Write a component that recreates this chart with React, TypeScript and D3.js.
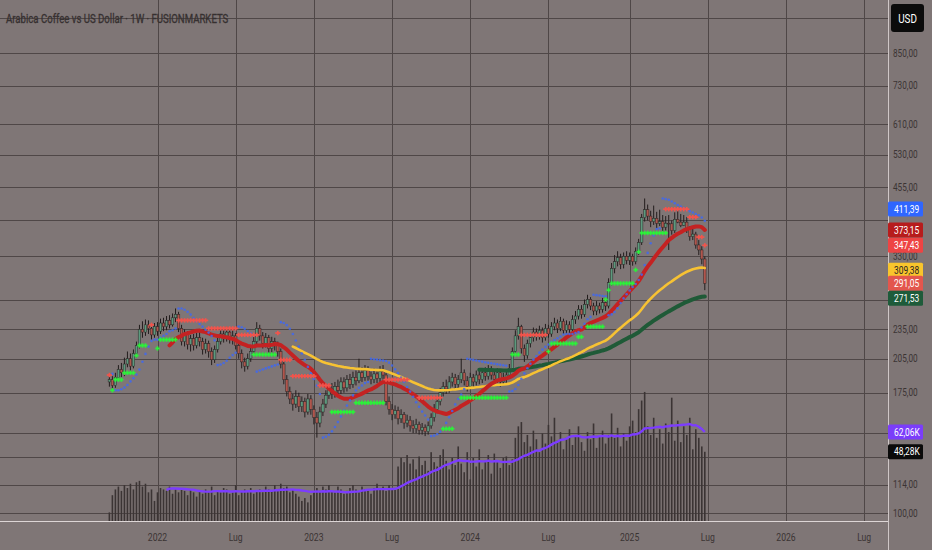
import React, { useEffect, useRef } from 'react';
import * as d3 from 'd3';

// weekly bars, first one is the week of 13 Sep 2021
const FIRST_WEEK = new Date(2021, 8, 13);
const FIRST_OPEN = 184;

const closes = [
  186, 181, 188, 195, 192, 200, 205, 198, 210, 218,
  235, 232, 240, 236, 229, 238, 233, 242, 238, 245,
  240, 248, 252, 236, 222, 230, 219, 225, 218, 226,
  222, 214, 220, 212, 204, 214, 222, 230, 226, 232,
  224, 228, 218, 210, 202, 198, 205, 212, 222, 236,
  228, 220, 226, 215, 222, 218, 212, 200, 186, 176,
  170, 166, 172, 164, 168, 160, 170, 162, 156, 152,
  160, 166, 173, 178, 174, 180, 177, 184, 179, 186,
  182, 188, 185, 192, 188, 194, 189, 186, 191, 187,
  193, 190, 168, 162, 158, 161, 155, 158, 152, 154,
  150, 148, 151, 147, 149, 146, 150, 156, 162, 168,
  175, 180, 178, 184, 188, 182, 186, 192, 185, 180,
  188, 184, 190, 186, 192, 189, 195, 190, 186, 192,
  184, 187, 190, 196, 212, 228, 238, 215, 208, 220,
  226, 232, 228, 234, 226, 236, 230, 238, 242, 236,
  244, 234, 240, 235, 246, 250, 258, 252, 264, 270,
  262, 256, 262, 258, 266, 262, 292, 312, 322, 328,
  318, 330, 324, 330, 322, 338, 352, 395, 410, 398,
  388, 394, 385, 388, 378, 385, 384, 372, 392, 387,
  381.1, 387, 374, 362, 366, 348, 340, 326, 291.05,
];

const highs = [
  191, 189, 192, 199, 201, 206, 212, 210, 214, 222,
  240, 244, 246, 245, 240, 242, 243, 247, 248, 250,
  251, 253, 259, 255, 240, 235, 233, 229, 230, 231,
  232, 226, 225, 223, 216, 218, 227, 235, 236, 238,
  235, 234, 231, 222, 214, 206, 210, 217, 227, 243,
  240, 232, 231, 229, 227, 226, 222, 215, 203, 190,
  180, 174, 177, 175, 172, 171, 174, 173, 165, 160,
  164, 170, 177, 182, 183, 184, 186, 188, 188, 190,
  191, 193, 194, 205, 197, 199, 198, 193, 196, 195,
  198, 199, 192, 172, 166, 165, 164, 162, 160, 158,
  157, 154, 155, 153, 152, 151, 153, 159, 166, 172,
  179, 184, 186, 189, 192, 191, 190, 205, 195, 189,
  192, 191, 194, 194, 196, 197, 199, 198, 194, 196,
  195, 192, 194, 200, 216, 234, 248, 240, 219, 224,
  231, 237, 236, 239, 237, 241, 240, 243, 248, 246,
  249, 247, 245, 244, 251, 256, 263, 263, 270, 276,
  273, 266, 268, 266, 272, 270, 298, 320, 332, 338,
  334, 336, 338, 336, 334, 344, 358, 402, 432, 420,
  408, 418, 406, 410, 400, 398, 400, 390, 405, 412,
  402, 400, 396, 380, 375, 370, 356, 346, 330,
];

const lows = [
  180, 177, 179, 185, 188, 189, 197, 194, 196, 206,
  215, 226, 228, 230, 224, 226, 228, 230, 233, 234,
  236, 238, 243, 232, 218, 217, 214, 212, 213, 215,
  217, 209, 210, 206, 199, 201, 211, 219, 221, 222,
  220, 219, 214, 205, 196, 193, 195, 202, 209, 218,
  223, 215, 216, 210, 211, 213, 207, 196, 182, 172,
  166, 161, 163, 160, 160, 156, 158, 158, 151, 142,
  149, 157, 163, 170, 170, 171, 173, 174, 175, 176,
  178, 179, 181, 183, 184, 185, 185, 182, 183, 183,
  184, 186, 165, 158, 154, 155, 151, 152, 148, 149,
  146, 145, 145, 144, 144, 143, 144, 148, 153, 159,
  165, 172, 174, 175, 180, 178, 178, 183, 181, 176,
  178, 180, 181, 182, 183, 185, 186, 186, 182, 183,
  180, 182, 183, 187, 193, 208, 224, 210, 202, 205,
  216, 222, 223, 224, 221, 223, 226, 227, 234, 231,
  233, 230, 230, 231, 232, 241, 246, 247, 249, 259,
  257, 251, 251, 253, 254, 256, 259, 288, 305, 315,
  311, 312, 318, 317, 316, 318, 332, 348, 388, 390,
  378, 382, 376, 380, 370, 372, 340, 365, 368, 385,
  378, 380, 368, 355, 356, 342, 332, 318, 282,
];

// volume in thousands of contracts
const volumes = [
  6, 18, 22, 24, 21, 25, 23, 26, 22, 27, 28, 24, 26, 20, 22,
  14, 20, 23, 22, 21, 24, 19, 22, 20, 23, 21, 18, 22, 20, 17, 21,
  19, 22, 20, 24, 18, 21, 20, 23, 22, 19, 20, 25, 18, 21, 22, 20, 23, 19, 21,
  22, 20, 24, 22, 21, 25, 22, 26, 23, 24, 20,
  22, 19, 17, 14, 16, 13, 18, 20, 23, 21, 24, 22, 25, 21, 20, 24, 22, 19,
  21, 23, 25, 22, 20, 24, 22, 21, 19, 23, 26, 22, 24, 21, 25, 23, 22,
  38, 44, 41, 46, 40, 43, 36, 45, 39, 42, 35, 48, 41, 38, 46, 50, 42, 36, 44, 39,
  52, 40, 34, 48, 29, 44, 38, 50, 36, 42, 46, 33, 47, 41, 37, 44, 45, 39, 43,
  58, 66, 69, 55, 60, 52, 63, 57, 48, 61, 54, 67, 59,
  72, 56, 62, 50, 58, 64, 53, 60, 66, 55, 49, 62, 57, 68, 51, 59, 63, 54, 60, 75, 58, 65, 52, 61, 56, 66,
  70, 62, 78, 84, 90,
  66, 60, 72, 58, 64, 54, 68, 62, 86, 56, 70, 55, 66, 60, 72, 50, 64, 58, 52, 48.28,
];

// flat stop levels of the cross indicator: [from bar, to bar, level]
const longStops = [
  [1, 1, 177], [2, 4, 186], [5, 8, 192], [9, 9, 208], [10, 12, 218], [16, 16, 215],
  [17, 22, 224], [48, 55, 209], [74, 81, 160], [82, 91, 167], [111, 114, 148],
  [117, 132, 171], [134, 136, 209], [146, 146, 212], [147, 155, 220], [156, 157, 227],
  [159, 164, 238], [165, 165, 270], [166, 166, 282], [167, 174, 291], [175, 175, 310],
  [176, 176, 337], [177, 185, 368],
];
const shortStops = [
  [0, 0, 190], [14, 14, 240], [23, 32, 245], [33, 42, 236], [43, 49, 229], [56, 56, 231],
  [57, 60, 204], [61, 68, 189], [70, 73, 181], [92, 99, 186], [103, 110, 171],
  [137, 145, 229], [185, 192, 411], [193, 195, 396], [196, 197, 361], [198, 198, 347.43],
];

// last values as printed on the price scale
const priceReadouts = [411.39, 373.15, 347.43, 309.38, 291.05, 271.53];
const priceReadoutFills = ['#2f66ff', '#b71c1c', '#ee4444', '#f9c52c', '#e3564d', '#1e5b3a'];
const volumeReadouts = [62.06, 48.28];
const volumeReadoutFills = ['#7b3dfa', '#0a0a0a'];

const priceTicks = [100, 114, 130, 145, 175, 205, 235, 270, 330, 390, 455, 530, 610, 730, 850, 1000];
const timeTicks = [
  new Date(2022, 0, 3), new Date(2022, 6, 4), new Date(2023, 0, 2), new Date(2023, 6, 3),
  new Date(2024, 0, 1), new Date(2024, 6, 1), new Date(2025, 0, 6), new Date(2025, 6, 7),
  new Date(2026, 0, 5), new Date(2026, 6, 6),
];
const timeLabels = ['2022', 'Lug', '2023', 'Lug', '2024', 'Lug', '2025', 'Lug', '2026', 'Lug'];

const TITLE = 'Arabica Coffee vs US Dollar · 1W · FUSIONMARKETS';
const MA_FAST = 21;
const EMA_MID = 62;
const EMA_SLOW = 124;
const VOL_MA = 20;

const W = 932;
const H = 550;
const PANE_W = 888;
const PANE_H = 521;

const ema = (vals: number[], p: number) => {
  const k = 2 / (p + 1);
  let prev = NaN;
  return vals.map((v, i) => {
    if (i < p - 1) return null;
    prev = i === p - 1 ? (d3.mean(vals.slice(0, p)) as number) : v * k + prev * (1 - k);
    return prev;
  });
};

const sma = (vals: number[], p: number) =>
  vals.map((_, i) => (i < p - 1 ? null : (d3.mean(vals.slice(i - p + 1, i + 1)) as number)));

// parabolic SAR, 0.02 / 0.02 / 0.2
const psar = (hi: number[], lo: number[], cl: number[]) => {
  const out: (number | null)[] = [null];
  let up = cl[1] >= cl[0];
  let sar = up ? lo[0] : hi[0];
  let ep = up ? hi[0] : lo[0];
  let af = 0.02;
  for (let i = 1; i < hi.length; i++) {
    sar = sar + af * (ep - sar);
    if (up) {
      sar = Math.min(sar, lo[i - 1], lo[Math.max(0, i - 2)]);
      if (lo[i] < sar) {
        up = false; sar = ep; ep = lo[i]; af = 0.02;
      } else if (hi[i] > ep) {
        ep = hi[i]; af = Math.min(af + 0.02, 0.2);
      }
    } else {
      sar = Math.max(sar, hi[i - 1], hi[Math.max(0, i - 2)]);
      if (hi[i] > sar) {
        up = true; sar = ep; ep = hi[i]; af = 0.02;
      } else if (lo[i] < ep) {
        ep = lo[i]; af = Math.min(af + 0.02, 0.2);
      }
    }
    out.push(sar);
  }
  return out;
};

const it = d3.formatLocale({ decimal: ',', thousands: '.', grouping: [3], currency: ['', ''] });
const f2 = it.format('.2f');

export default function App() {
  const svgRef = useRef<SVGSVGElement>(null);

  useEffect(() => {
    if (!svgRef.current) return;
    const svg = d3.select(svgRef.current);
    svg.selectAll('*').remove();

    const dates = closes.map((_, i) => d3.timeWeek.offset(FIRST_WEEK, i));
    const opens = closes.map((_, i) => (i ? closes[i - 1] : FIRST_OPEN));

    const x = d3.scaleTime().domain([timeTicks[0], timeTicks[8]]).range([157.5, 786]);
    const y = d3.scaleLog().domain([100, 850]).range([513, 53]);
    const yv = d3.scaleLinear().domain([0, 100]).range([PANE_H, PANE_H - 143.4]);

    const maFast = sma(closes, MA_FAST);
    const emaMid = ema(closes, EMA_MID);
    const emaSlow = ema(closes, EMA_SLOW);
    const volMa = sma(volumes, VOL_MA);
    const sar = psar(highs, lows, closes);

    svg.append('rect').attr('width', W).attr('height', H).attr('fill', '#7f7676');

    svg.append('defs').append('clipPath').attr('id', 'pane')
      .append('rect').attr('width', PANE_W).attr('height', PANE_H);

    const pane = svg.append('g').attr('clip-path', 'url(#pane)');

    // grid
    pane.append('g').selectAll('line').data(priceTicks).join('line')
      .attr('x1', 0).attr('x2', PANE_W)
      .attr('y1', d => Math.round(y(d)) + 0.5).attr('y2', d => Math.round(y(d)) + 0.5)
      .attr('stroke', '#4f4747').attr('stroke-width', 1);
    pane.append('g').selectAll('line').data(timeTicks).join('line')
      .attr('y1', 0).attr('y2', PANE_H)
      .attr('x1', d => Math.round(x(d)) + 0.5).attr('x2', d => Math.round(x(d)) + 0.5)
      .attr('stroke', '#4f4747').attr('stroke-width', 1);

    // volume
    pane.append('g').selectAll('rect').data(volumes).join('rect')
      .attr('x', (_, i) => x(dates[i]) - 0.8)
      .attr('width', 1.6)
      .attr('y', d => yv(d))
      .attr('height', d => PANE_H - yv(d))
      .attr('fill', '#3b3434');

    const lineOf = (yy: (v: number) => number) =>
      d3.line<number | null>()
        .defined(d => d != null)
        .x((_, i) => x(dates[i]))
        .y(d => yy(d as number));

    pane.append('path').datum(volMa).attr('d', lineOf(yv))
      .attr('fill', 'none').attr('stroke', '#7c3cff').attr('stroke-width', 2.4)
      .attr('stroke-linejoin', 'round');

    // candles
    const candles = pane.append('g').selectAll('g').data(closes).join('g');
    candles.append('line')
      .attr('x1', (_, i) => x(dates[i])).attr('x2', (_, i) => x(dates[i]))
      .attr('y1', (_, i) => y(highs[i])).attr('y2', (_, i) => y(lows[i]))
      .attr('stroke', '#231d1d').attr('stroke-width', 1);
    candles.append('rect')
      .attr('x', (_, i) => x(dates[i]) - 1.25)
      .attr('width', 2.5)
      .attr('y', (d, i) => y(Math.max(d, opens[i])))
      .attr('height', (d, i) => Math.max(0.8, y(Math.min(d, opens[i])) - y(Math.max(d, opens[i]))))
      .attr('fill', (d, i) => (d >= opens[i] ? '#5c9a7e' : '#b0564d'))
      .attr('stroke', '#2f2626').attr('stroke-width', 0.5);

    // moving averages
    const ma = [
      { v: emaSlow, c: '#1f5a37', w: 4 },
      { v: emaMid, c: '#f7c233', w: 2.6 },
      { v: maFast, c: '#c42222', w: 4 },
    ];
    ma.forEach(m => {
      pane.append('path').datum(m.v).attr('d', lineOf(y))
        .attr('fill', 'none').attr('stroke', m.c).attr('stroke-width', m.w)
        .attr('stroke-linejoin', 'round').attr('stroke-linecap', 'round');
    });

    // SAR dots
    pane.append('g').selectAll('circle')
      .data(sar.map((v, i) => [i, v] as [number, number | null]).filter(d => d[1] != null))
      .join('circle')
      .attr('cx', d => x(dates[d[0]])).attr('cy', d => y(d[1] as number)).attr('r', 1.3)
      .attr('fill', '#4169ee').attr('opacity', 0.85);

    // cross markers
    const crosses = (segs: number[][], color: string, arm: number) => {
      const g = pane.append('g').attr('stroke', color).attr('stroke-width', 1.7);
      segs.forEach(([a, b, lvl]) => {
        d3.range(a, b + 1).forEach(i => {
          const cx = x(dates[i]);
          const cy = y(lvl);
          g.append('line').attr('x1', cx - arm).attr('x2', cx + arm).attr('y1', cy).attr('y2', cy);
          g.append('line').attr('x1', cx).attr('x2', cx).attr('y1', cy - 2.2).attr('y2', cy + 2.2);
        });
      });
    };
    crosses(longStops, '#2cf03a', 2.2);
    crosses(shortStops, '#f2544c', 2.6);

    // axis borders
    svg.append('line').attr('x1', 0).attr('x2', PANE_W).attr('y1', PANE_H + 0.5).attr('y2', PANE_H + 0.5)
      .attr('stroke', '#ddd6d6').attr('stroke-width', 1.2);
    svg.append('line').attr('x1', PANE_W + 0.5).attr('x2', PANE_W + 0.5).attr('y1', 0).attr('y2', H)
      .attr('stroke', '#cfc7c7').attr('stroke-width', 1);

    const squeeze = (sel: d3.Selection<SVGTextElement, any, any, any>, k: number) =>
      sel.each(function () {
        const w = this.getComputedTextLength();
        d3.select(this).attr('textLength', w * k).attr('lengthAdjust', 'spacingAndGlyphs');
      });

    const font = 'Roboto, sans-serif';

    // badges cover the scale labels underneath them
    const badgeYs = [
      ...priceReadouts.map(v => y(v)),
      ...volumeReadouts.map(v => yv(v)),
    ];
    const freeTicks = priceTicks.filter(t =>
      y(t) > 40 && badgeYs.every(by => Math.abs(by - y(t)) > 11));

    // price labels
    squeeze(svg.append('g').selectAll('text').data(freeTicks).join('text')
      .attr('x', 893).attr('y', d => y(d) + 3.6)
      .attr('font-family', font).attr('font-size', 10).attr('fill', '#3b3434')
      .text(d => f2(d)), 0.82);

    // time labels
    squeeze(svg.append('g').selectAll('text').data(timeTicks).join('text')
      .attr('x', d => x(d)).attr('y', 540.5).attr('text-anchor', 'middle')
      .attr('font-family', font).attr('font-size', 10.5).attr('fill', '#3b3434')
      .text((_, i) => timeLabels[i]), 0.82);

    // last value badges
    const badge = (cy: number, bg: string, label: string) => {
      svg.append('rect').attr('x', 888).attr('y', cy - 7.5).attr('width', 35).attr('height', 15)
        .attr('rx', 1.5).attr('fill', bg);
      squeeze(svg.append('text').attr('x', 894).attr('y', cy + 3.6)
        .attr('font-family', font).attr('font-size', 10)
        .attr('fill', bg === '#f9c52c' ? '#2b2424' : '#ffffff').text(label), 0.84);
    };
    priceReadouts.forEach((v, i) => badge(y(v), priceReadoutFills[i], f2(v)));
    volumeReadouts.forEach((v, i) => badge(yv(v), volumeReadoutFills[i], f2(v) + 'K'));

    // currency button
    svg.append('rect').attr('x', 891).attr('y', 4).attr('width', 33).attr('height', 28)
      .attr('rx', 3).attr('fill', '#0b0b0b');
    squeeze(svg.append('text').attr('x', 907.5).attr('y', 22.5).attr('text-anchor', 'middle')
      .attr('font-family', font).attr('font-size', 12).attr('fill', '#ffffff').text('USD'), 0.82);

    // title
    squeeze(svg.append('text').attr('x', 6).attr('y', 22.5)
      .attr('font-family', font).attr('font-size', 12).attr('fill', '#363030')
      .attr('stroke', '#363030').attr('stroke-width', 0.3)
      .text(TITLE), 0.8);
  }, []);

  return (
    <svg ref={svgRef} width={W} height={H}
      style={{ position: 'absolute', left: 0, top: 0, display: 'block' }} />
  );
}
